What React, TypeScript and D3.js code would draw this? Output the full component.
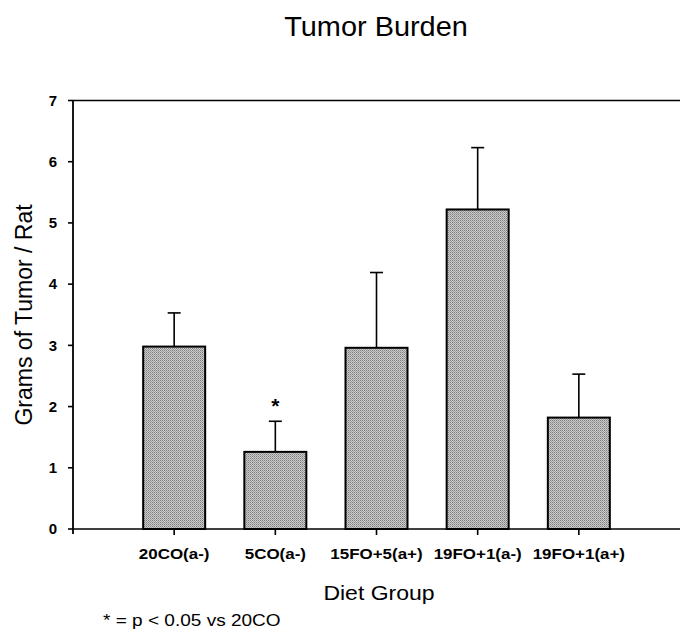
import React from "react";
import * as d3 from "d3";

const categories = ["20CO(a-)", "5CO(a-)", "15FO+5(a+)", "19FO+1(a-)", "19FO+1(a+)"];
const means = [2.98, 1.26, 2.96, 5.22, 1.82];
const errors = [0.55, 0.5, 1.23, 1.01, 0.71];
const significant = [false, true, false, false, false];
const yTickValues = [0, 1, 2, 3, 4, 5, 6, 7];

const W = 680;
const H = 639;
const left = 73;
const right = 680;
const top = 100.5;
const bottom = 529;
const FONT = "'Liberation Sans', Arial, Helvetica, sans-serif";

export default function App() {
  const x = d3.scalePoint<string>().domain(categories).range([left, right]).padding(1);
  const y = d3.scaleLinear().domain([0, 7]).range([bottom, top]);
  const barW = 62;
  const capW = 13;

  return (
    <svg
      width={W}
      height={H}
      viewBox={`0 0 ${W} ${H}`}
      style={{ position: "absolute", left: 0, top: 0, background: "#fff" }}
    >
      <defs>
        <pattern id="stip" width="2" height="2" patternUnits="userSpaceOnUse">
          <rect width="2" height="2" fill="#cccccc" />
          <rect width="1" height="1" fill="#7e7e7e" />
          <rect x="1" y="1" width="1" height="1" fill="#9c9c9c" />
        </pattern>
      </defs>

      {/* title */}
      <g transform={`translate(376,36) scale(1.07,1)`}>
        <text textAnchor="middle" fontFamily={FONT} fontSize={27} fill="#000">
          Tumor Burden
        </text>
      </g>

      {/* bars */}
      {categories.map((c, i) => {
        const cx = x(c)!;
        const yt = y(means[i]);
        const ye = y(means[i] + errors[i]);
        return (
          <g key={c}>
            <line x1={cx} x2={cx} y1={yt} y2={ye} stroke="#000" strokeWidth={1.6} />
            <line x1={cx - capW / 2} x2={cx + capW / 2} y1={ye} y2={ye} stroke="#000" strokeWidth={1.6} />
            <rect
              x={cx - barW / 2}
              y={yt}
              width={barW}
              height={bottom - yt}
              fill="url(#stip)"
              stroke="#000"
              strokeWidth={2}
            />
            {significant[i] && (
              <text
                x={cx}
                y={ye - 8}
                textAnchor="middle"
                fontFamily={FONT}
                fontWeight="bold"
                fontSize={21}
                fill="#000"
              >
                *
              </text>
            )}
          </g>
        );
      })}

      {/* frame lines */}
      <line x1={left} x2={right} y1={top} y2={top} stroke="#000" strokeWidth={1.6} />
      <line x1={left} x2={right} y1={bottom} y2={bottom} stroke="#000" strokeWidth={1.6} />
      <line x1={left} x2={left} y1={top} y2={bottom + 5} stroke="#000" strokeWidth={1.8} />

      {/* y ticks */}
      {yTickValues.map((v) => (
        <g key={v}>
          <line x1={left - 5} x2={left} y1={y(v)} y2={y(v)} stroke="#000" strokeWidth={1.6} />
          <text
            x={57}
            y={y(v)}
            dy="0.35em"
            textAnchor="end"
            fontFamily={FONT}
            fontWeight="bold"
            fontSize={15}
            fill="#000"
          >
            {v}
          </text>
        </g>
      ))}

      {/* x ticks */}
      {categories.map((c) => (
        <g key={"t" + c}>
          <line x1={x(c)!} x2={x(c)!} y1={bottom} y2={bottom + 6} stroke="#000" strokeWidth={1.6} />
          <g transform={`translate(${x(c)!},559) scale(1.13,1)`}>
            <text textAnchor="middle" fontFamily={FONT} fontWeight="bold" fontSize={15} fill="#000">
              {c}
            </text>
          </g>
        </g>
      ))}

      {/* y label */}
      <text
        transform={`translate(32,315) rotate(-90)`}
        textAnchor="middle"
        fontFamily={FONT}
        fontSize={23}
        fill="#000"
      >
        Grams of Tumor / Rat
      </text>

      {/* x label */}
      <g transform={`translate(379,600) scale(1.15,1)`}>
        <text textAnchor="middle" fontFamily={FONT} fontSize={20} fill="#000">
          Diet Group
        </text>
      </g>

      {/* footnote */}
      <g transform={`translate(103,626) scale(1.12,1)`}>
        <text textAnchor="start" fontFamily={FONT} fontSize={17} fill="#000">
          * = p &lt; 0.05 vs 20CO
        </text>
      </g>
    </svg>
  );
}
